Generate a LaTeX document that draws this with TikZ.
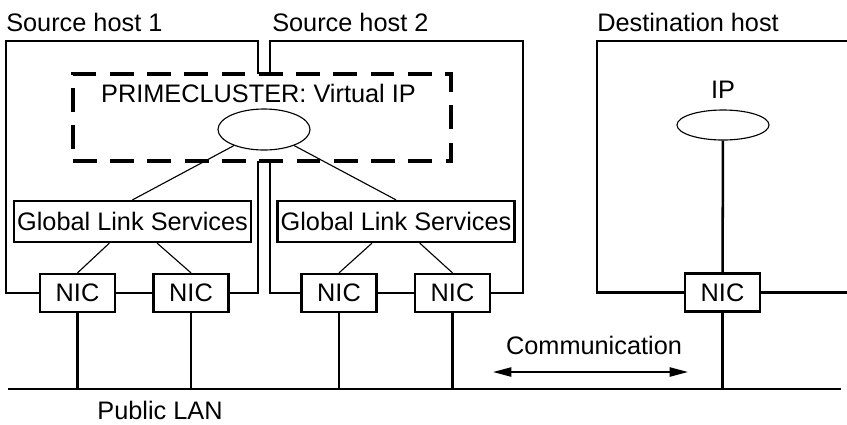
\documentclass[tikz,border=0pt]{standalone}
\usepackage{fontspec}
\setmainfont{Liberation Sans}
\usetikzlibrary{shapes.geometric,arrows.meta}

\tikzset{
  nicbox/.style={shape=rectangle,draw=black,line width=1.6pt,minimum width=1.875cm,minimum height=0.95cm,inner sep=0pt},
  glsbox/.style={shape=rectangle,draw=black,line width=1.6pt,minimum width=5.925cm,minimum height=1.025cm,inner sep=0pt},
  ipoval/.style={shape=ellipse,draw=black,line width=0.8pt,minimum width=2.3cm,inner sep=0pt},
  frame/.style={draw=black,line width=1.8pt},
  lanline/.style={line width=1.8pt},
  label/.style={inner sep=0pt}
}

\begin{document}
\begin{tikzpicture}[x=0.025cm,y=-0.025cm,font=\fontsize{18}{21}\selectfont]
            \useasboundingbox (0,0) rectangle (847,424);

            \node[shape=rectangle,draw=black,line width=2.6pt,dash pattern=on 17pt off 9.5pt,minimum width=9.45cm,minimum height=2.175cm] (cluster) at (262,117.5) {};
            \node[label] (clusterlbl) at (258.5,93) {PRIMECLUSTER: Virtual IP};
            \node[ipoval,minimum height=1.025cm] (vip) at (264,129.5) {};

            \node[glsbox] (gls1) at (132.5,221.5) {Global Link Services};
            \node[glsbox] (gls2) at (396,221.5) {Global Link Services};

            \node[nicbox] (nic1) at (77.5,293) {NIC};
            \node[nicbox] (nic2) at (191,293) {NIC};
            \node[nicbox] (nic3) at (339,293) {NIC};
            \node[nicbox] (nic4) at (452.5,293) {NIC};
            \node[nicbox] (dnic) at (722.5,292.5) {NIC};

            \node[label] (iplbl) at (723,90) {IP};
            \node[ipoval,minimum height=0.75cm] (ip) at (723,125) {};

            \node[label,anchor=west] (host1) at (6,22) {Source host 1};
            \node[label,anchor=west] (host2) at (272,22) {Source host 2};
            \node[label,anchor=west] (dhost) at (597,22) {Destination host};
            \node[label] (lanlbl) at (160,410) {Public LAN};
            \node[label] (commlbl) at (594,345) {Communication};

            \coordinate (lanL) at (8,389);
            \coordinate (lanR) at (841,389);
            \coordinate (commL) at (493,372);
            \coordinate (commR) at (688,372);

            % host frames
            \draw[frame] (nic1.west) -| (6,41) -- (258,41) -- (258,74);
            \draw[frame] (nic2.east) -| (258,161);
            \draw[frame] (nic3.west) -| (270,161);
            \draw[frame] (270,74) |- (523,41) |- (nic4.east);
            \draw[frame] (dnic.west) -| (597,41) -- (847,41);
            \draw[frame] (dnic.east) -- ++(86,0);
            \path[frame] (nic1) edge (nic2);
            \path[frame] (nic3) edge (nic4);

            \path [line width=0.8pt] (vip) edge (gls1.north);
            \path [line width=0.8pt] (vip) edge (gls2.north);
            \path [line width=0.8pt] (gls1) edge (nic1.north);
            \path [line width=0.8pt] (gls1) edge (nic2.north);
            \path [line width=0.8pt] (gls2) edge (nic3.north);
            \path [line width=0.8pt] (gls2) edge (nic4.north);
            \path [lanline] (ip) edge (dnic);

            % public LAN
            \draw[lanline] (lanL) -- (lanR);
            \path [lanline] (nic1) edge (nic1 |- lanL);
            \path [lanline] (nic2) edge (nic2 |- lanL);
            \path [lanline] (nic3) edge (nic3 |- lanL);
            \path [lanline] (nic4) edge (nic4 |- lanL);
            \path [lanline] (dnic) edge (dnic |- lanL);

            \path [{Triangle[length=13pt,width=6.5pt]}-{Triangle[length=13pt,width=6.5pt]},line width=1.3pt] (commL) edge (commR);
        \end{tikzpicture}
\end{document}
